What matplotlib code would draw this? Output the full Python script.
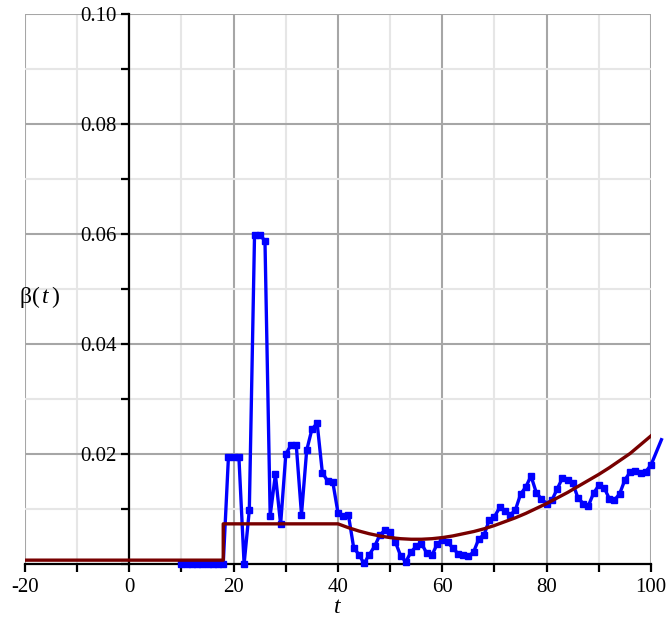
import numpy as np
import matplotlib.pyplot as plt
from matplotlib.ticker import MultipleLocator

plt.rcParams['font.family'] = ['Liberation Serif', 'DejaVu Serif']
plt.rcParams['mathtext.fontset'] = 'custom'
plt.rcParams['mathtext.rm'] = 'Liberation Serif'
plt.rcParams['mathtext.it'] = 'Liberation Serif:italic'
plt.rcParams['axes.unicode_minus'] = False

# observed transmission rate (one value per day)
t_obs = np.arange(10, 103)
beta_obs = [
    0.0, 0.0, 0.0, 0.0, 0.0, 0.0, 0.0, 0.0, 0.0,          # 10-18
    0.0195, 0.0195, 0.0195, 0.0, 0.0098,                   # 19-23
    0.0598, 0.0598, 0.0588, 0.0088, 0.0163,                # 24-28
    0.0072, 0.0200, 0.0216, 0.0216, 0.0090,                # 29-33
    0.0207, 0.0245, 0.0256, 0.0166, 0.0151,                # 34-38
    0.0149, 0.0093, 0.0087, 0.0089, 0.0030,                # 39-43
    0.0017, 0.0001, 0.0017, 0.0032, 0.0052,                # 44-48
    0.0062, 0.0058, 0.0040, 0.0015, 0.0004,                # 49-53
    0.0022, 0.0032, 0.0037, 0.0020, 0.0016,                # 54-58
    0.0036, 0.0044, 0.0040, 0.0029, 0.0019,                # 59-63
    0.0016, 0.0014, 0.0022, 0.0046, 0.0053,                # 64-68
    0.0080, 0.0086, 0.0103, 0.0097, 0.0089,                # 69-73
    0.0098, 0.0127, 0.0140, 0.0160, 0.0130,                # 74-78
    0.0118, 0.0110, 0.0116, 0.0136, 0.0156,                # 79-83
    0.0152, 0.0147, 0.0120, 0.0110, 0.0106,                # 84-88
    0.0129, 0.0143, 0.0139, 0.0119, 0.0116,                # 89-93
    0.0128, 0.0153, 0.0167, 0.0170, 0.0165,                # 94-98
    0.0168, 0.0180, 0.0203, 0.0226,                        # 99-102
]

# fitted model beta(t)
t_fit = [-20, 18, 18, 40, 42, 44, 46, 48, 50, 52, 54, 56, 58, 60, 62, 64, 66,
         68, 70, 72, 74, 76, 78, 80, 82, 84, 86, 88, 90, 92, 94, 96, 98, 100]
beta_fit = [0.0007, 0.0007, 0.0073, 0.0073, 0.0066, 0.0060, 0.0055, 0.0051,
            0.0048, 0.0046, 0.0045, 0.0045, 0.0046, 0.0048, 0.0051, 0.0055,
            0.0059, 0.0064, 0.0070, 0.0077, 0.0084, 0.0092, 0.0101, 0.0110,
            0.0120, 0.0130, 0.0141, 0.0152, 0.0163, 0.0175, 0.0188, 0.0201,
            0.0217, 0.0233]

fig = plt.figure(figsize=(6.71, 6.22), dpi=100)
ax = fig.add_axes([25 / 671, 58 / 622, 626 / 671, 550 / 622])
ax.set_xlim(-20, 100)
ax.set_ylim(0, 0.10)

# grid
ax.xaxis.set_major_locator(MultipleLocator(20))
ax.xaxis.set_minor_locator(MultipleLocator(10))
ax.yaxis.set_major_locator(MultipleLocator(0.02))
ax.yaxis.set_minor_locator(MultipleLocator(0.01))
ax.grid(which='minor', color='#e6e6e6', linewidth=1.5, zorder=0)
ax.grid(which='major', color='#a6a6a6', linewidth=1.5, zorder=0)
ax.set_axisbelow(True)

# axes through the origin
ax.spines['top'].set_visible(False)
ax.spines['right'].set_visible(False)
ax.spines['left'].set_position(('data', 0))
ax.spines['bottom'].set_position(('data', 0))
for s in ('left', 'bottom'):
    ax.spines[s].set_linewidth(1.6)
    ax.spines[s].set_zorder(2)
ax.tick_params(which='both', direction='out', length=6, width=1.6,
               labelsize=15, color='black')
ax.tick_params(axis='x', pad=4)
ax.tick_params(axis='y', pad=3)

ax.set_xticks([-20, 0, 20, 40, 60, 80, 100])
ax.set_xticklabels(['-20', '0', '20', '40', '60', '80', '100'])
ax.set_yticks([0.02, 0.04, 0.06, 0.08, 0.10])
ax.set_yticklabels(['0.02', '0.04', '0.06', '0.08', '0.10'])

n_mark = int(np.sum(t_obs <= 100))
ax.plot(t_obs, beta_obs, color='#0000ff', linewidth=2.4, marker='s',
        markersize=4.5, markevery=slice(0, n_mark), clip_on=False, zorder=3)
ax.plot(t_fit, beta_fit, color='#780000', linewidth=2.4, zorder=4)

ax.text(0.5, -0.06, '$t$', transform=ax.transAxes, fontsize=17,
        ha='center', va='top')
fig.text(40 / 671, 1 - 297 / 622, r'β$(\,t\,)$', fontsize=17,
         ha='center', va='center')

fig.savefig('out.png', dpi=100)
